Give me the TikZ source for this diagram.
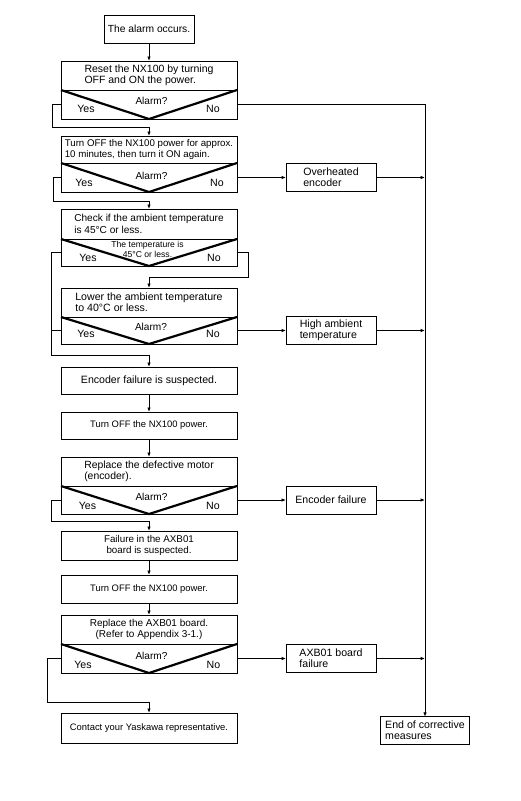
\documentclass[tikz,border=0pt]{standalone}
\usepackage{fontspec}
\setmainfont{Liberation Sans}
\usetikzlibrary{arrows.meta,calc}
\newcommand\fsz[1]{\fontsize{#1}{11.3}\selectfont}
\newcommand\fssmall{\fontsize{8.6}{10.5}\selectfont}
\begin{document}
\begin{tikzpicture}[x=1pt,y=-1pt,
  box/.style={draw,line width=0.9pt,outer sep=0pt,minimum width=176pt,inner sep=2pt,font=\fsz{9.7},align=left},
  sbox/.style={box,minimum width=90pt,font=\fsz{10.6}},
  vee/.style={line width=2.2pt,line join=miter},
  lab/.style={font=\fsz{10.1},inner sep=0pt},
  yn/.style={font=\fsz{10.6},inner sep=0pt},
  arr/.style={line width=0.9pt,-{Latex[length=4.5pt,width=3.6pt]}},
  ln/.style={line width=0.9pt}]
\useasboundingbox (0,0) rectangle (521,801);

% main column
\node[box,minimum width=90pt,minimum height=28pt,font=\fsz{10.3}] (b1) at (149,29) {The alarm occurs.};

\node[box,minimum height=29pt,font=\fsz{10.5}] (b2t) at (149,75.5) {Reset the NX100 by turning\\OFF and ON the power.};
\node[box,minimum height=29pt] (b2d) at (149,104.5) {};
\draw[vee] (b2d.north west) -- (b2d.south) -- (b2d.north east);
\node[lab] (b2a) at (151.5,101) {Alarm?};
\node[yn] (b2y) at (86,109) {Yes};
\node[yn] (b2n) at (213,109) {No};

\node[box,minimum height=27pt] (b3t) at (149,149.5) {Turn OFF the NX100 power for approx.\\10 minutes, then turn it ON again.};
\node[box,minimum height=29pt] (b3d) at (149,177.5) {};
\draw[vee] (b3d.north west) -- (b3d.south) -- (b3d.north east);
\node[lab] (b3a) at (151.5,175.5) {Alarm?};
\node[yn] (b3y) at (84,183) {Yes};
\node[yn] (b3n) at (217,183) {No};

\node[box,minimum height=30pt,font=\fsz{10.1}] (b4t) at (149,224) {Check if the ambient temperature\\is 45°C or less.};
\node[box,minimum height=27pt] (b4d) at (149,252.5) {};
\draw[vee] (b4d.north west) -- (b4d.south) -- (b4d.north east);
\node[font=\fssmall,align=center,inner sep=0pt] (b4q) at (147.5,249.5) {The temperature is\\45°C or less.};
\node[yn] (b4y) at (88,257.5) {Yes};
\node[yn] (b4n) at (214,257.5) {No};

\node[box,minimum height=29pt,font=\fsz{10.6}] (b5t) at (149,302.5) {Lower the ambient temperature\\to 40°C or less.};
\node[box,minimum height=27pt] (b5d) at (149,330.5) {};
\draw[vee] (b5d.north west) -- (b5d.south) -- (b5d.north east);
\node[lab] (b5a) at (151,326.5) {Alarm?};
\node[yn] (b5y) at (86,334) {Yes};
\node[yn] (b5n) at (213,334) {No};

\node[box,minimum height=27pt,align=center,font=\fsz{10.6}] (b6) at (149,380.5) {Encoder failure is suspected.};
\node[box,minimum height=27pt,align=center,font=\fsz{9.4}] (b7) at (149,425.5) {Turn OFF the NX100 power.};

\node[box,minimum height=29pt,font=\fsz{10.4}] (b8t) at (149,471.5) {Replace the defective motor\\(encoder).};
\node[box,minimum height=28pt] (b8d) at (149,500) {};
\draw[vee] (b8d.north west) -- (b8d.south) -- (b8d.north east);
\node[lab] (b8a) at (151.5,496.5) {Alarm?};
\node[yn] (b8y) at (87.5,505.5) {Yes};
\node[yn] (b8n) at (213,505.5) {No};

\node[box,minimum height=29pt,align=center,font=\fsz{9.8}] (b9) at (149,545.5) {Failure in the AXB01\\board is suspected.};
\node[box,minimum height=28pt,align=center,font=\fsz{9.4}] (b10) at (149,589) {Turn OFF the NX100 power.};

\node[box,minimum height=29pt,align=center,font=\fsz{10}] (b11t) at (149,629.5) {Replace the AXB01 board.\\(Refer to Appendix 3-1.)};
\node[box,minimum height=29pt] (b11d) at (149,658.5) {};
\draw[vee] (b11d.north west) -- (b11d.south) -- (b11d.north east);
\node[lab] (b11a) at (151.5,656) {Alarm?};
\node[yn] (b11y) at (83,665) {Yes};
\node[yn] (b11n) at (213.5,665) {No};

\node[box,minimum height=30pt,align=center,font=\fsz{9.4}] (b12) at (149,728) {Contact your Yaskawa representative.};

% right column
\node[sbox,minimum height=28.5pt] (oh) at (331,177.5) {Overheated\\encoder};
\node[sbox,minimum height=28.5pt] (ha) at (331,330.5) {High ambient\\temperature};
\node[sbox,minimum height=28pt] (ef) at (331,500) {Encoder failure};
\node[sbox,minimum height=28pt] (ax) at (331,658.5) {AXB01 board\\failure};
\node[sbox,minimum width=89pt,minimum height=27.5pt] (end) at (425,730.5) {End of corrective\\measures};

% connectors
\draw[arr] (b1) -- (b2t);
\draw[arr] (b2d.west) -- ++(-9,0) -- ++(0,22.5) -| (b3t.north);
\draw[arr] (b2d.east) -| (end.north);
\draw[arr] (b3d.west) -- ++(-8,0) -- ++(0,23.5) -| (b4t.north);
\draw[arr] (b3d.east) -- (oh.west);
\draw[arr] (oh.east) -- (oh.east -| end.north);
\draw[arr] (b4d.west) -- ++(-10,0) -- ++(0,102.5) -| (b6.north);
\draw[arr] (b4d.east) -- ++(11,0) -- ++(0,24.5) -| (b5t.north);
\draw[ln] (b5d.west) -- ++(-10,0);
\draw[arr] (b5d.east) -- (ha.west);
\draw[arr] (ha.east) -- (ha.east -| end.north);
\draw[arr] (b6) -- (b7);
\draw[arr] (b7) -- (b8t);
\draw[arr] (b8d.west) -- ++(-10,0) -- ++(0,21.5) -| (b9.north);
\draw[arr] (b8d.east) -- (ef.west);
\draw[arr] (ef.east) -- (ef.east -| end.north);
\draw[arr] (b9) -- (b10);
\draw[arr] (b10) -- (b11t);
\draw[arr] (b11d.west) -- ++(-14,0) -- ++(0,44) -| (b12.north);
\draw[arr] (b11d.east) -- (ax.west);
\draw[arr] (ax.east) -- (ax.east -| end.north);
\end{tikzpicture}
\end{document}
